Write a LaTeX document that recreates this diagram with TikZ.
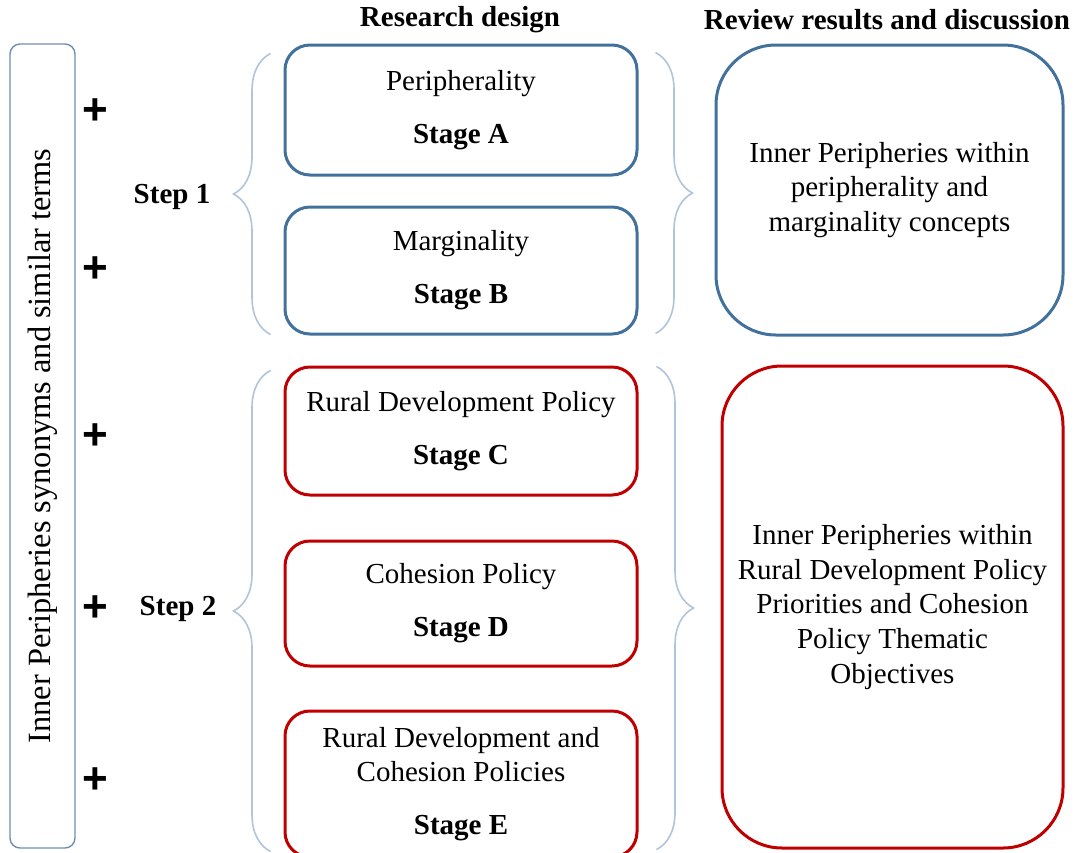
\documentclass[tikz,border=0pt]{standalone}
\usepackage{fontspec}
\setmainfont{Liberation Serif}
\setsansfont{Liberation Sans}
\usetikzlibrary{decorations.pathreplacing}
\definecolor{boxblue}{RGB}{65,113,156}
\definecolor{boxred}{RGB}{192,0,0}
\definecolor{bracegray}{RGB}{176,196,218}
\definecolor{termgray}{RGB}{110,142,176}

\begin{document}
\begin{tikzpicture}[x=0.5pt, y=-0.5pt, thick,
    text font/.style={font=\fontsize{14.5}{17.4}\selectfont},
    head node/.style={font=\fontsize{14.5}{17.4}\selectfont\bfseries},
    step node/.style={font=\fontsize{14.5}{17.4}\selectfont\bfseries},
    plus node/.style={font=\fontsize{22}{22}\selectfont\sffamily\bfseries},
    term node/.style={draw=termgray, line width=0.7pt, rounded corners=5pt, rotate=90, font=\fontsize{16.2}{19}\selectfont},
    stage node/.style={draw=#1, line width=1.5pt, rounded corners=12.5pt, minimum width=176pt, align=center, text font,
        execute at begin node=\rule{0pt}{13pt}},
    result node/.style={draw=#1, line width=1.5pt, rounded corners=30pt, align=center, text font},
    side brace/.style={draw=bracegray, line width=0.8pt, decorate, decoration={brace, amplitude=18.5pt}}]
\clip (0,0) rectangle (1077,852);

\node[head node] (hdesign) at (460,20) {Research design};
\node[head node] (hreview) at (887,20) {Review results and discussion};

\node[term node, minimum width=402pt, minimum height=32.5pt] (terms) at (42.5,446) {Inner Peripheries synonyms and similar terms};

\node[plus node] (p1) at (95,112) {+};
\node[plus node] (p2) at (95,270) {+};
\node[plus node] (p3) at (95,437) {+};
\node[plus node] (p4) at (95,609) {+};
\node[plus node] (p5) at (95,781) {+};

\node[step node] (step1) at (172,197) {Step 1};
\node[step node] (step2) at (178,609) {Step 2};

\node[stage node=boxblue, minimum height=65pt] (stageA) at (461,110) {Peripherality\\[9pt]\textbf{Stage A}};
\node[stage node=boxblue, minimum height=63.5pt] (stageB) at (461,270.5) {Marginality\\[9pt]\textbf{Stage B}};
\node[stage node=boxred, minimum height=64pt] (stageC) at (461,431) {Rural Development Policy\\[9pt]\textbf{Stage C}};
\node[stage node=boxred, minimum height=62.5pt] (stageD) at (461,603.5) {Cohesion Policy\\[9pt]\textbf{Stage D}};
\node[stage node=boxred, minimum height=73pt] (stageE) at (461,784) {Rural Development and\\Cohesion Policies\\[9pt]\textbf{Stage E}};

\node[result node=boxblue, minimum width=173.5pt, minimum height=145pt] (res1) at (889.5,190) {Inner Peripheries within\\peripherality and\\marginality concepts};
\node[result node=boxred, minimum width=170.5pt, minimum height=241pt] (res2) at (892.5,607) {Inner Peripheries within\\Rural Development Policy\\Priorities and Cohesion\\Policy Thematic\\Objectives};

\draw[side brace] ([shift={(-13,-1)}]stageB.south west) -- ([shift={(-13,10)}]stageA.north west);
\draw[side brace] ([shift={(-13,-7)}]stageE.south west) -- ([shift={(-13,5)}]stageC.north west);
\draw[side brace] ([shift={(17,9)}]stageA.north east) -- ([shift={(17,-2)}]stageB.south east);
\draw[side brace] ([shift={(18,1)}]stageC.north east) -- ([shift={(18,-9)}]stageE.south east);
\end{tikzpicture}
\end{document}
